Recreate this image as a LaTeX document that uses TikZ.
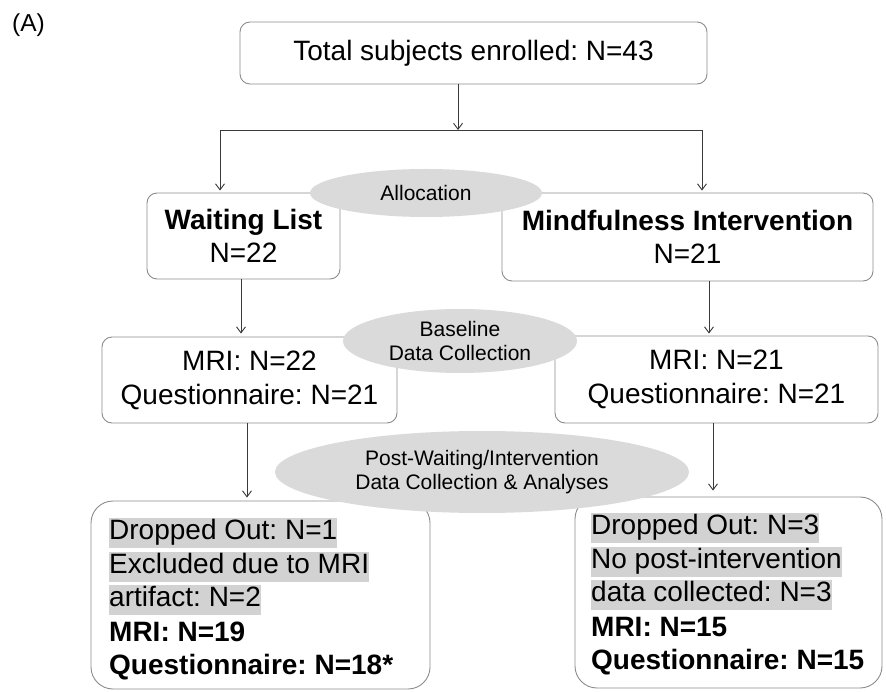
\documentclass[tikz,border=0pt]{standalone}
\usepackage{fontspec}
\setmainfont{Liberation Sans}
\usetikzlibrary{shapes.geometric,arrows.meta}
\definecolor{boxline}{HTML}{8C8C8C}
\definecolor{ellfill}{HTML}{DADADA}
\definecolor{hlfill}{HTML}{D2D2D2}
\definecolor{arrline}{HTML}{3A3A3A}
\tikzset{
  box/.style={draw=boxline, line width=0.9pt, rounded corners=10pt, inner sep=0pt, align=center,
              font=\fontsize{28}{33}\selectfont},
  bigbox/.style={draw=boxline, line width=0.9pt, rounded corners=22pt, inner sep=0pt},
  ell/.style={shape=ellipse, fill=ellfill, inner sep=0pt, align=center,
              font=\fontsize{21}{24.5}\selectfont},
  arr/.style={draw=arrline, line width=0.9pt, -{Straight Barb[length=6pt,width=9pt]}},
  plain/.style={draw=arrline, line width=0.9pt},
  hlline/.style={anchor=west, fill=hlfill, inner sep=0pt, text height=21.5pt, text depth=8pt,
              font=\fontsize{28}{33}\selectfont},
  boldline/.style={anchor=west, inner sep=0pt, text height=21.5pt, text depth=8pt,
              font=\fontsize{28}{33}\selectfont\bfseries}
}
\begin{document}
\frenchspacing
\begin{tikzpicture}[x=1pt,y=-1pt]
\useasboundingbox (0,0) rectangle (886,692);
\fill[white] (0,0) rectangle (886,692);

\node[anchor=west, inner sep=0pt, font=\fontsize{24.5}{28}\selectfont] (lab) at (12,25) {(A)};

% boxes
\node[box, minimum width=467pt, minimum height=62pt] (top) at (473.5,53) {Total subjects enrolled: N=43};
\node[box, minimum width=193pt, minimum height=86pt] (wait) at (243.5,236) {\textbf{Waiting List}\\N=22};
\node[box, minimum width=371pt, minimum height=88pt] (mind) at (687.5,237) {\textbf{Mindfulness Intervention}\\N=21};
\node[box, minimum width=295pt, minimum height=86pt, font=\fontsize{28}{34}\selectfont] (mriL) at (249.5,380) {MRI: N=22\\Questionnaire: N=21};
\node[box, minimum width=323pt, minimum height=87pt, font=\fontsize{28}{34}\selectfont] (mriR) at (716.5,379.5) {MRI: N=21\\Questionnaire: N=21};
\node[bigbox, minimum width=339pt, minimum height=188pt] (endL) at (260.5,595) {};
\node[bigbox, minimum width=307pt, minimum height=191pt] (endR) at (728.5,592.5) {};

% connectors
\coordinate (split) at (458,130);
\coordinate (splitL) at (220,130);
\coordinate (splitR) at (702,130);
\coordinate (cA) at (241,0);
\coordinate (cB) at (709,0);
\coordinate (cC) at (247,0);
\coordinate (cD) at (713,0);
\draw[arr] (top.south -| split) -- (split);
\draw[plain] (splitL) -- (splitR);
\draw[arr] (splitL) -- ([yshift=2pt]wait.north -| splitL);
\draw[arr] (splitR) -- ([yshift=2pt]mind.north -| splitR);
\draw[arr] (wait.south -| cA) -- ([yshift=3pt]mriL.north -| cA);
\draw[arr] (mind.south -| cB) -- ([yshift=2pt]mriR.north -| cB);
\draw[arr] (mriL.south -| cC) -- ([yshift=3pt]endL.north -| cC);
\draw[arr] (mriR.south -| cD) -- ([yshift=6pt]endR.north -| cD);

% ellipses (over boxes)
\node[ell, minimum width=232pt, minimum height=48pt] (alloc) at (426,193) {Allocation};
\node[ell, minimum width=234pt, minimum height=64pt] (base) at (460,341) {Baseline\\Data Collection};
\node[ell, minimum width=414pt, minimum height=82pt] (post) at (482,472) {Post-Waiting/Intervention\\Data Collection \& Analyses};

% left end box text
\node[hlline] (l1) at (109,533) {Dropped Out: N=1\hspace{7.5pt}};
\node[hlline] (l2) at (109,567) {Excluded due to MRI\hspace{7.5pt}};
\node[hlline] (l3) at (109,600) {artifact: N=2\hspace{7.5pt}};
\node[boldline] (l4) at (109,635) {MRI: N=19};
\node[boldline] (l5) at (109,668) {Questionnaire: N=18*};

% right end box text
\node[hlline] (r1) at (591,528) {Dropped Out: N=3\hspace{7.5pt}};
\node[hlline] (r2) at (591,562) {No post-intervention\hspace{7.5pt}};
\node[hlline] (r3) at (591,595) {data collected: N=3\hspace{1pt}};
\node[boldline] (r4) at (591,630) {MRI: N=15};
\node[boldline] (r5) at (591,663) {Questionnaire: N=15};
\end{tikzpicture}
\end{document}
